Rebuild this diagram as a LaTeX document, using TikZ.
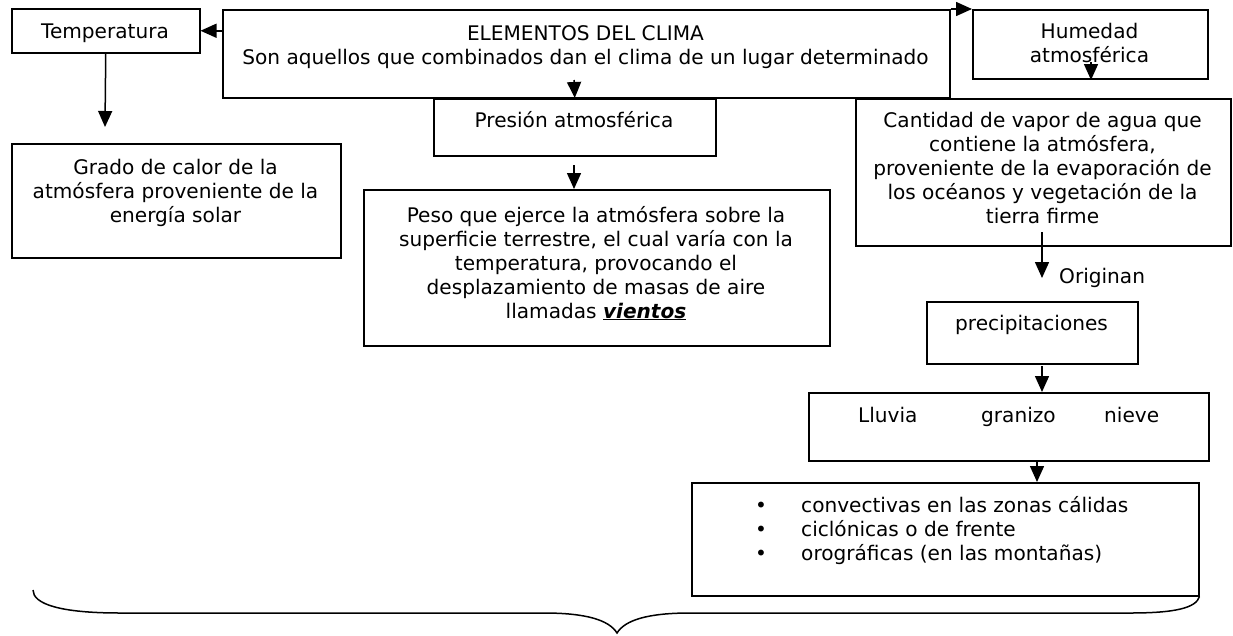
\documentclass[tikz,border=0pt]{standalone}
\usepackage{fontspec}
\setmainfont{DejaVu Sans}
\usetikzlibrary{arrows.meta,calc}
\newcommand\fsz{\fontsize{20.1}{24}\selectfont}
\newcommand\ctext[2]{\parbox[t]{#1}{\centering #2}}
\begin{document}
\begin{tikzpicture}[x=1pt,y=-1pt,
  boxnode/.style={draw, line width=1.5pt, inner sep=0pt, anchor=north west},
  txt/.style={inner sep=0pt, anchor=base, font=\fsz},
  ltxt/.style={inner sep=0pt, anchor=base west, font=\fsz},
  arr/.style={line width=1.5pt, -{Triangle[length=16pt,width=14pt]}},
  bracestyle/.style={line width=1.5pt}]
\useasboundingbox[fill=white] (0,0) rectangle (1233,635);

% boxes
\node[boxnode, minimum width=188pt, minimum height=44pt] (temp) at (11,8) {};
\node[boxnode, minimum width=727pt, minimum height=88pt] (elem) at (222,9) {};
\node[boxnode, minimum width=235pt, minimum height=69pt] (hum) at (972,9) {};
\node[boxnode, minimum width=282pt, minimum height=57pt] (pres) at (433,98) {};
\node[boxnode, minimum width=375pt, minimum height=147pt] (cant) at (855,98) {};
\node[boxnode, minimum width=329pt, minimum height=114pt] (grado) at (11,143) {};
\node[boxnode, minimum width=466pt, minimum height=156pt] (peso) at (363,189) {};
\node[boxnode, minimum width=211pt, minimum height=62pt] (prec) at (926,301) {};
\node[boxnode, minimum width=400pt, minimum height=68pt] (lluv) at (808,392) {};
\node[boxnode, minimum width=507pt, minimum height=113pt] (bul) at (691,482) {};

% texts
\node[txt] (tempt) at (105,38) {Temperatura};
\node[txt] (elemt) at (585.5,40) {\ctext{720pt}{ELEMENTOS DEL CLIMA\\Son aquellos que combinados dan el clima de un lugar determinado}};
\node[txt] (humt) at (1089.5,38) {\ctext{230pt}{Humedad\\atmosférica}};
\node[txt] (prest) at (574,127) {Presión atmosférica};
\node[txt] (cantt) at (1042.5,127) {\ctext{370pt}{Cantidad de vapor de agua que\\contiene la atmósfera,\\proveniente de la evaporación de\\los océanos y vegetación de la\\tierra firme}};
\node[txt] (gradot) at (175.5,174) {\ctext{325pt}{Grado de calor de la\\atmósfera proveniente de la\\energía solar}};
\node[txt] (pesot) at (596,222) {\ctext{460pt}{Peso que ejerce la atmósfera sobre la\\superficie terrestre, el cual varía con la\\temperatura, provocando el\\desplazamiento de masas de aire\\llamadas \underline{\textbf{\textit{vientos}}}}};
\node[ltxt] (orig) at (1059,283) {Originan};
\node[txt] (prect) at (1031.5,330) {precipitaciones};
\node[ltxt] (lluvt) at (858,422) {\makebox[123pt][l]{Lluvia}\makebox[123pt][l]{granizo}nieve};
\node[ltxt] (b1) at (755,512) {\makebox[46pt][l]{•}convectivas en las zonas cálidas};
\node[ltxt] (b2) at (755,536) {\makebox[46pt][l]{•}ciclónicas o de frente};
\node[ltxt] (b3) at (755,560) {\makebox[46pt][l]{•}orográficas (en las montañas)};

% free ends of connectors
\coordinate (c1) at (574,80);
\coordinate (c2) at (105,127);
\coordinate (c3) at (1091,62);
\coordinate (c4) at (1091,80);
\coordinate (c5) at (574,165);
\coordinate (c6) at (1042,232);
\coordinate (c7) at (1042,278);
\coordinate (c8) at (1042,366);
\coordinate (c9) at (1037,460);

% connectors
\draw[arr] (elem.west |- temp.east) -- (temp.east);
\draw[arr] (elem.north east) -- (hum.north west);
\draw[arr] (c1) -- (pres.north);
\draw[arr] (temp.south) -- (c2);
\draw[arr] (c3) -- (c4);
\draw[arr] (c5) -- (c5 |- peso.north);
\draw[arr] (c6) -- (c7);
\draw[arr] (c8) -- (c8 |- lluv.north);
\draw[arr] (c9) -- (c9 |- bul.north);

% brace
\coordinate (bl) at (33,590);
\coordinate (tip) at (617,633);
\draw[bracestyle] (bul.south east) .. controls (1196,608) and (1175,613) .. (1130,613)
  -- (690,613) .. controls (648,613) and (625,620) .. (tip)
  .. controls (609,620) and (586,613) .. (544,613)
  -- (120,613) .. controls (60,613) and (33,604) .. (bl);
\end{tikzpicture}
\end{document}
